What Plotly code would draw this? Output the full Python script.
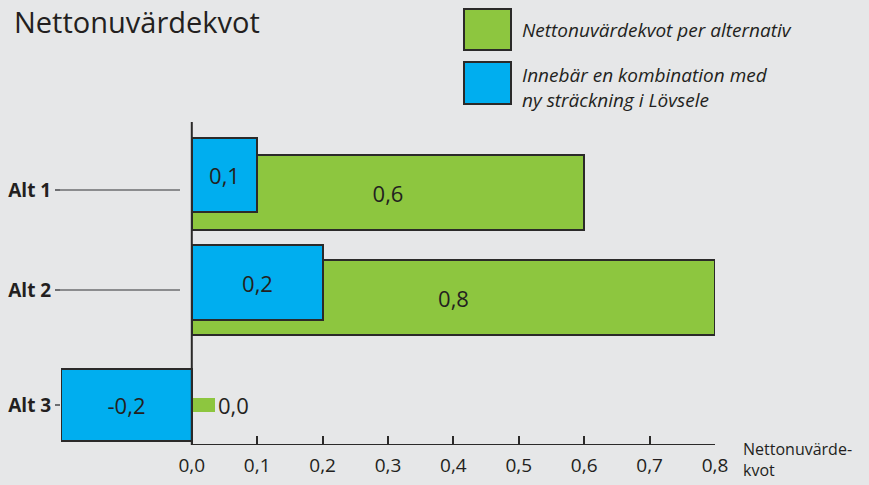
import plotly.graph_objects as go

# ---- data ----
categories = ["Alt 1", "Alt 2", "Alt 3"]
npv_ratio = [0.6, 0.8, 0.035]          # green: Nettonuvärdekvot per alternativ
npv_ratio_labels = ["0,6", "0,8", "0,0"]
combo_ratio = [0.1, 0.2, -0.2]          # blue: kombination med ny sträckning i Lövsele
combo_ratio_labels = ["0,1", "0,2", "-0,2"]
tick_values = [0, 0.1, 0.2, 0.3, 0.4, 0.5, 0.6, 0.7, 0.8]
tick_labels = ["0,0", "0,1", "0,2", "0,3", "0,4", "0,5", "0,6", "0,7", "0,8"]

# ---- layout constants (pixel-based y scale) ----
W, H = 869, 485
ML, MR, MT, MB = 61, 154, 122, 40
Y_TOP, Y_BOT = MT, H - MB          # y axis uses pixel units
cat_centers = [190, 290, 405]
green_offsets = [2.5, 7.5, 0]
blue_offsets = [-15, -7.5, 0]
green_widths = [75, 75, 14]
blue_widths = [74, 75, 72]

GREEN = "#8DC63F"
BLUE = "#00AEEF"
EDGE = "#2B2A29"
TXT = "#231F20"
BG = "#E6E7E8"
FONT = "Open Sans"

def px(x):  # pixel -> paper x
    return (x - ML) / (W - ML - MR)

def py(y):  # pixel -> paper y
    return (H - MB - y) / (H - MT - MB)

fig = go.Figure()
fig.add_trace(go.Bar(
    orientation="h", x=npv_ratio,
    y=[c + o for c, o in zip(cat_centers, green_offsets)],
    width=green_widths,
    marker=dict(color=GREEN, line=dict(color=EDGE, width=[2, 2, 0])),
    text=npv_ratio_labels, textposition=["inside", "inside", "outside"],
    insidetextanchor="middle", constraintext="none",
    textfont=dict(family=FONT, size=22, color=TXT),
    cliponaxis=False, hoverinfo="skip", showlegend=False,
))
fig.add_trace(go.Bar(
    orientation="h", x=combo_ratio,
    y=[c + o for c, o in zip(cat_centers, blue_offsets)],
    width=blue_widths,
    marker=dict(color=BLUE, line=dict(color=EDGE, width=2)),
    text=combo_ratio_labels, textposition="inside",
    insidetextanchor="middle", constraintext="none",
    textfont=dict(family=FONT, size=22, color=TXT),
    cliponaxis=False, hoverinfo="skip", showlegend=False,
))

shapes = []
# axis lines
shapes.append(dict(type="line", xref="x", yref="y", x0=0, x1=0, y0=Y_TOP, y1=Y_BOT,
                   line=dict(color=EDGE, width=2), layer="above"))
shapes.append(dict(type="line", xref="x", yref="y", x0=0, x1=0.8, y0=Y_BOT, y1=Y_BOT,
                   line=dict(color=EDGE, width=2), layer="above"))
# leader lines for Alt 1 and Alt 2
for c in cat_centers[:2]:
    shapes.append(dict(type="line", xref="paper", yref="y", x0=px(60), x1=px(180), y0=c, y1=c,
                       line=dict(color="#6D6E71", width=1.5)))
# legend boxes
shapes.append(dict(type="rect", xref="paper", yref="paper", x0=px(464), x1=px(511),
                   y0=py(50), y1=py(9), fillcolor=GREEN, line=dict(color=EDGE, width=2)))
shapes.append(dict(type="rect", xref="paper", yref="paper", x0=px(464), x1=px(511),
                   y0=py(104), y1=py(62), fillcolor=BLUE, line=dict(color=EDGE, width=2)))

annotations = [
    dict(text="Nettonuvärdekvot", xref="paper", yref="paper", x=px(12), y=py(0),
         xanchor="left", yanchor="top", showarrow=False,
         font=dict(family=FONT, size=29, color=TXT)),
    dict(text="<i>Nettonuvärdekvot per alternativ</i>", xref="paper", yref="paper",
         x=px(520), y=py(30), xanchor="left", yanchor="middle", showarrow=False,
         font=dict(family=FONT, size=19, color=TXT)),
    dict(text="<i>Innebär en kombination med<br>ny sträckning i Lövsele</i>", xref="paper",
         yref="paper", x=px(520), y=py(88), xanchor="left", yanchor="middle", showarrow=False,
         align="left", font=dict(family=FONT, size=19, color=TXT)),
    dict(text="Nettonuvärde-<br>kvot", xref="paper", yref="paper", x=px(741), y=py(483),
         xanchor="left", yanchor="bottom", showarrow=False, align="left",
         font=dict(family=FONT, size=16, color=TXT)),
]

fig.update_layout(
    width=W, height=H,
    margin=dict(l=ML, r=MR, t=MT, b=MB, pad=0, autoexpand=False),
    paper_bgcolor=BG, plot_bgcolor=BG,
    barmode="overlay", bargap=0,
    shapes=shapes, annotations=annotations,
    showlegend=False,
    xaxis=dict(range=[-0.2, 0.8], tickvals=tick_values, ticktext=tick_labels,
               ticks="inside", ticklen=9, tickwidth=2, tickcolor=EDGE,
               ticklabelstandoff=7, automargin=False,
               showgrid=False, zeroline=False, showline=False,
               tickfont=dict(family=FONT, size=19, color=TXT), fixedrange=True),
    yaxis=dict(range=[Y_BOT, Y_TOP], tickvals=cat_centers,
               ticktext=["<b>%s</b>" % c for c in categories],
               ticks="outside", ticklen=5, tickwidth=1.5, tickcolor="#6D6E71",
               automargin=False,
               showgrid=False, zeroline=False, showline=False,
               tickfont=dict(family=FONT, size=19, color=TXT), fixedrange=True),
)

fig.write_html("out.html")
